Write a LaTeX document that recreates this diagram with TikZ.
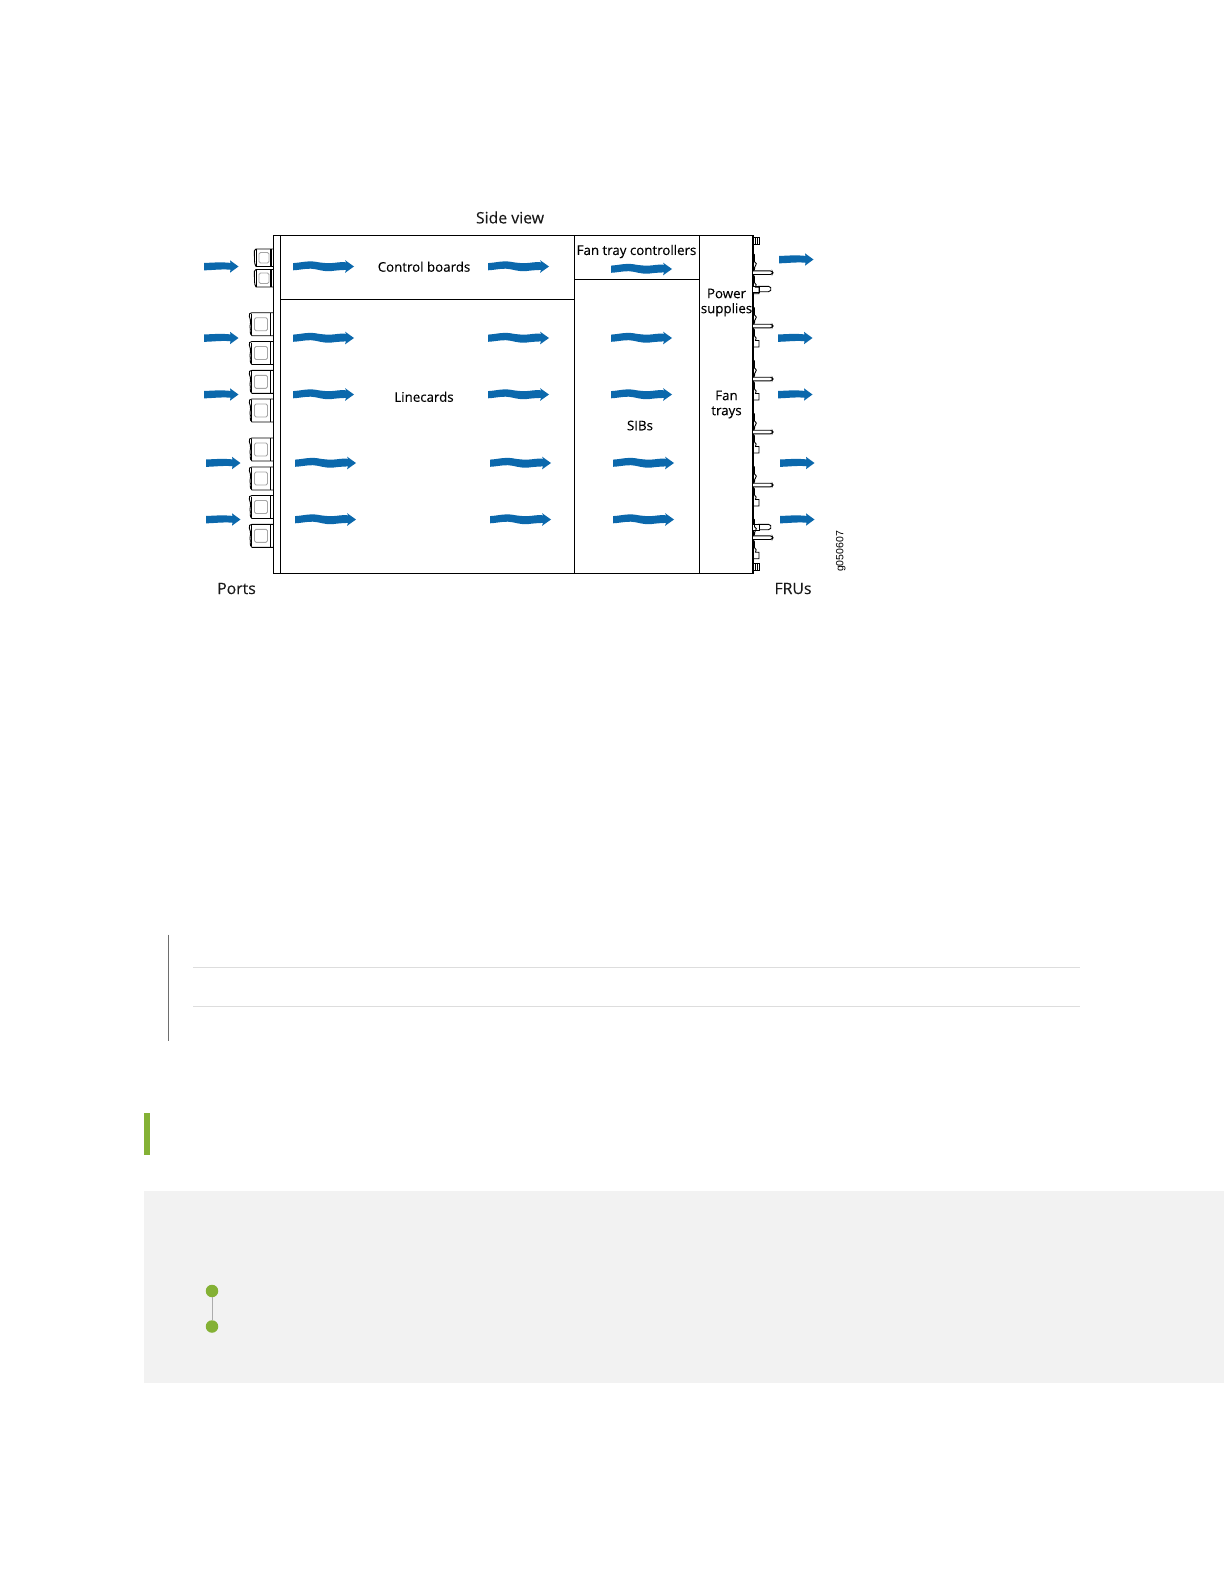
\documentclass[tikz,border=0pt]{standalone}
\usepackage{fontspec}
\setmainfont{Open Sans}
\newfontfamily\medfont[FakeBold=0.12]{Open Sans}
\newfontfamily\codefont{Liberation Sans}
\definecolor{flowblue}{HTML}{0B68AC}
\definecolor{leaf}{HTML}{84B135}
\definecolor{panel}{HTML}{F2F2F2}
\definecolor{rulelight}{HTML}{DDDDDD}
\definecolor{ruledark}{HTML}{6E6E6E}
\tikzset{
  wall/.style={draw=black,line width=1.1pt},
  lbl/.style={inner sep=0pt,font=\medfont\fontsize{13.3}{15}\selectfont,align=center,text=black},
  lblbig/.style={inner sep=0pt,font=\medfont\fontsize{15.8}{18}\selectfont,text=black!90},
  pics/flowlong/.style={code={
    \fill[flowblue] (0,-3.4) .. controls (8,-3.8) and (14,-6) .. (22,-4.8)
      .. controls (30,-3.4) and (36,-2.8) .. (44,-4) .. controls (47,-4.4) and (50,-4.6) .. (53,-4.2)
      -- (52,-6.4) -- (61,0) -- (52,6.4) -- (53,3.4)
      .. controls (48,3.6) and (44,3.8) .. (38,4.6) .. controls (30,5.4) and (24,2.4) .. (18,2.2) .. controls (12,2) and (6,3.6) .. (0,3.8) -- cycle;}},
  pics/flowshort/.style={code={
    \fill[flowblue] (0,-3.6) .. controls (8,-3.6) and (15,-4.8) .. (26.5,-3.6)
      -- (26,-6.2) -- (34.5,0) -- (26,6.2) -- (26.5,3.2)
      .. controls (16,2.4) and (8,3.8) .. (0,3.8) -- cycle;}},
  pics/portbig/.style={code={
    \fill[white] (3,0) rectangle (24,23);
    \draw[line width=0.9pt,line cap=round] (24,0) -- (3,0) .. controls (0.4,0) and (-0.2,1.5) .. (0.4,4)
       .. controls (1,6) and (2,8) .. (1.5,10) .. controls (1,11.5) and (0.5,12) .. (1,14) .. controls (2,17) and (0,21) .. (3,23) -- (24,23);
    \draw[line width=1pt] (2.7,1) -- (2.7,22);
    \draw[line width=1.7pt] (21.5,0) -- (21.5,23);
    \draw[draw=gray!70,line width=0.9pt,rounded corners=1.5pt] (5.5,5) rectangle (18.5,18);}},
  pics/portsmall/.style={code={
    \fill[white] (2,0) rectangle (19,17.5);
    \draw[line width=0.9pt,line cap=round] (19,0) -- (2,0) .. controls (0,0) and (0,3) .. (0.4,6)
       .. controls (0.8,10) and (-0.2,14) .. (2,17.5) -- (19,17.5);
    \draw[line width=0.7pt] (2.5,0) -- (2.5,17.5);
    \draw[line width=1.5pt] (17,0) -- (17,17.5);
    \draw[draw=gray!70,line width=0.8pt,rounded corners=1.5pt] (5,3.5) rectangle (15,14);}},
  pics/handlelong/.style={code={
    \draw[line width=0.9pt,fill=white,rounded corners=1.5pt] (0,-1.8) -- (19,-1.8) -- (19.8,0) -- (19,1.8) -- (0,1.8);}},
  pics/handlebox/.style={code={
    \draw[line width=0.9pt,fill=white,rounded corners=1.5pt] (5,-2.7) -- (17,-2.7) -- (18.5,0) -- (17,2.7) -- (5,2.7);
    \draw[line width=0.9pt,fill=white] (0,-3) -- (6,-3) -- (6,3) -- (0,3);}},
  pics/lump/.style={code={
    \draw[line width=0.9pt] (0,-19) -- (1.5,-18) -- (1.5,-11) .. controls (3.5,-10) and (4,-8) .. (2.5,-7)
      .. controls (1.5,-6) and (1.5,-5) .. (1.5,-3) -- (0,-1.8);
    \draw[line width=0.9pt] (0,1.8) -- (1.5,4) -- (1.5,10) .. controls (3.5,11) and (3.5,13) .. (2.5,14.5) -- (6,14.5) -- (6,21) -- (0,21);}},
  pics/knob/.style={code={
    \draw[line width=0.8pt,fill=white] (0,-3.5) rectangle (6.5,3.5);
    \draw[line width=0.6pt] (2.2,-3.5) -- (2.2,3.5) (4.3,-3.5) -- (4.3,3.5);}},
}
\begin{document}
\begin{tikzpicture}[x=1pt,y=-1pt]
\useasboundingbox (0,0) rectangle (1224,1584);
% page furniture
\fill[panel] (144,1191) rectangle (1224,1383);
\fill[leaf] (144,1113) rectangle (150,1155);
\draw[ruledark,line width=0.8pt] (168.5,934.5) -- (168.5,1040.5);
\draw[rulelight,line width=1pt] (193,967.5) -- (1080,967.5);
\draw[rulelight,line width=1pt] (193,1006) -- (1080,1006);
\node[circle,fill=leaf,minimum size=12.5pt,inner sep=0pt] (dotA) at (212,1291) {};
\node[circle,fill=leaf,minimum size=12.5pt,inner sep=0pt] (dotB) at (212,1326.5) {};
\draw[gray!65,line width=0.6pt] (dotA) -- (dotB);
% ports
\foreach \y in {249,269.5} \pic at (254,\y) {portsmall};
\foreach \y in {312.7,341.5,370.3,399,438,467,495.5,524.3} \pic at (249,\y) {portbig};
% chassis
\draw[wall] (273.2,235.3) rectangle (753,573.8);
\draw[wall] (280.5,235.3) -- (280.5,573.8);
\draw[wall] (280.5,299.7) -- (574.6,299.7);
\draw[wall] (574.6,235.3) -- (574.6,573.8);
\draw[wall] (699.3,235.3) -- (699.3,573.8);
\draw[wall] (574.6,279.5) -- (699.3,279.5);
% front-panel hardware
\foreach \y in {272.7,326,379,432,485,537.7} \pic at (753,\y) {handlelong};
\foreach \y in {289,527} \pic at (753,\y) {handlebox};
\foreach \y in {272.7,326,379,432,485,537.7} \pic at (753,\y) {lump};
\pic at (753,240.7) {knob};
\pic at (753,566.7) {knob};
% airflow
\foreach \x/\y in {293/266.5,488/266.5,293/338,488/338,611/338,293/394.5,488/394.5,611/394.5,
                   295/463,490/463,613/463,295/519.5,490/519.5,613/519.5,611/269}
  \pic at (\x,\y) {flowlong};
\foreach \x/\y in {204/266.5,204/338,204/394.5,206/463,206/519.5,
                   779/259.5,778/338,778/394.5,780/463,780/519.5}
  \pic at (\x,\y) {flowshort};
% labels
\node[lblbig] (side) at (510,217.5) {Side view};
\node[lbl] (cb) at (424,266.7) {Control boards};
\node[lbl] (ftc) at (636.5,251.5) {Fan tray controllers};
\node[lbl] (lc) at (424,396.8) {Linecards};
\node[lbl] (sib) at (640,425.5) {SIBs};
\node[lbl] (ps) at (726.5,302.5) {Power\\supplies};
\node[lbl] (ft) at (726.5,404.5) {Fan\\trays};
\node[lblbig] (ports) at (236.5,588.5) {Ports};
\node[lblbig] (frus) at (793,588.5) {FRUs};
\node[inner sep=0pt,rotate=90,font=\codefont\fontsize{10.5}{13}\selectfont] (code) at (840.7,551.5) {g050607};
\end{tikzpicture}
\end{document}
